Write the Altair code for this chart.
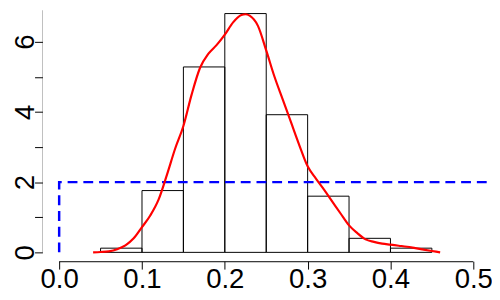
import altair as alt
import pandas as pd

# Histogram (density scale), bin width 0.05
bin_left = [0.05, 0.10, 0.15, 0.20, 0.25, 0.30, 0.35, 0.40]
bin_right = [0.10, 0.15, 0.20, 0.25, 0.30, 0.35, 0.40, 0.45]
density = [0.12, 1.76, 5.28, 6.80, 3.92, 1.60, 0.40, 0.12]

# Kernel density estimate (red curve)
kde_x = [0.041, 0.05, 0.06, 0.07, 0.08, 0.09, 0.10, 0.11, 0.12, 0.13, 0.14,
         0.15, 0.16, 0.17, 0.18, 0.19, 0.20, 0.21, 0.22, 0.225, 0.23, 0.24,
         0.25, 0.26, 0.27, 0.28, 0.29, 0.30, 0.31, 0.32, 0.33, 0.34, 0.35,
         0.36, 0.37, 0.38, 0.39, 0.40, 0.41, 0.42, 0.43, 0.44, 0.45, 0.46]
kde_y = [0.0, 0.01, 0.03, 0.09, 0.20, 0.40, 0.72, 1.05, 1.50, 2.20, 2.95,
         3.60, 4.50, 5.25, 5.65, 5.90, 6.20, 6.55, 6.76, 6.78, 6.74, 6.45,
         5.75, 5.00, 4.35, 3.70, 3.05, 2.45, 2.10, 1.78, 1.44, 1.10, 0.77,
         0.55, 0.37, 0.30, 0.25, 0.22, 0.19, 0.16, 0.12, 0.08, 0.04, 0.0]

# Uniform density (blue dashed)
unif_x = [0.0, 0.0, 0.6]
unif_y = [0.0, 2.0, 2.0]

x_ticks = [0.0, 0.1, 0.2, 0.3, 0.4, 0.5]
y_ticks = [0, 1, 2, 3, 4, 5, 6, 7]

hist_df = pd.DataFrame({"x": bin_left, "x2": bin_right, "d": density, "zero": [0.0] * len(density)})
kde_df = pd.DataFrame({"x": kde_x, "y": kde_y, "i": list(range(len(kde_x)))})
unif_df = pd.DataFrame({"x": unif_x, "y": unif_y, "i": list(range(len(unif_x)))})
xaxis_df = pd.DataFrame({"a": [x_ticks[0]], "b": [x_ticks[-1]]})
yaxis_df = pd.DataFrame({"a": [y_ticks[0]], "b": [y_ticks[-1]]})

W, H = 457, 255
xs = alt.Scale(domain=[-0.0202, 0.5226], nice=False, zero=False)
ys = alt.Scale(domain=[-0.2521, 6.8908], nice=False, zero=False)

x_axis = alt.Axis(values=x_ticks, format=".1f", title=None, domain=False, grid=False,
                  tickSize=8, tickColor="black", labelFont="Liberation Sans",
                  labelFontSize=28, labelColor="black", labelBaseline="alphabetic",
                  labelAlign="center", labelPadding=19, labelFlush=False,
                  labelOverlap=False, labelBound=False)
y_axis = alt.Axis(values=y_ticks, format="d", title=None, domain=False, grid=False,
                  tickSize=8, tickColor="black", labelFont="Liberation Sans",
                  labelFontSize=28, labelColor="black", labelAngle=270,
                  labelAlign="center", labelBaseline="alphabetic", labelPadding=1,
                  labelFlush=False, labelOverlap=False, labelBound=False,
                  labelExpr="datum.value % 2 == 0 ? datum.label : ''")

bars = alt.Chart(hist_df).mark_bar(fill="white", fillOpacity=0, stroke="black",
                                   strokeWidth=1).encode(
    x=alt.X("x:Q", scale=xs, axis=x_axis),
    x2="x2:Q",
    y=alt.Y("d:Q", scale=ys, axis=y_axis),
    y2="zero:Q",
)

unif = alt.Chart(unif_df).mark_line(color="#0000FF", strokeWidth=2.5,
                                    strokeDash=[10, 6], clip=True).encode(
    x=alt.X("x:Q", scale=xs),
    y=alt.Y("y:Q", scale=ys),
    order="i:Q",
)

kde = alt.Chart(kde_df).mark_line(color="#FF0000", strokeWidth=2.2,
                                  interpolate="monotone").encode(
    x=alt.X("x:Q", scale=xs),
    y=alt.Y("y:Q", scale=ys),
    order="i:Q",
)

xline = alt.Chart(xaxis_df).mark_rule(color="black", strokeWidth=1).encode(
    x=alt.X("a:Q", scale=xs), x2="b:Q", y=alt.value(H + 0.5))
yline = alt.Chart(yaxis_df).mark_rule(color="black", strokeWidth=1, clip=True).encode(
    y=alt.Y("a:Q", scale=ys), y2="b:Q", x=alt.value(-0.5))

chart = alt.layer(bars, unif, kde, xline, yline).properties(
    width=W, height=H,
    autosize=alt.AutoSizeParams(type="none"),
    padding={"left": 35, "top": 0, "right": 0, "bottom": 37},
    background="white",
).configure_view(stroke=None)

chart.save("out.html", embed_options={"renderer": "svg", "actions": False})
